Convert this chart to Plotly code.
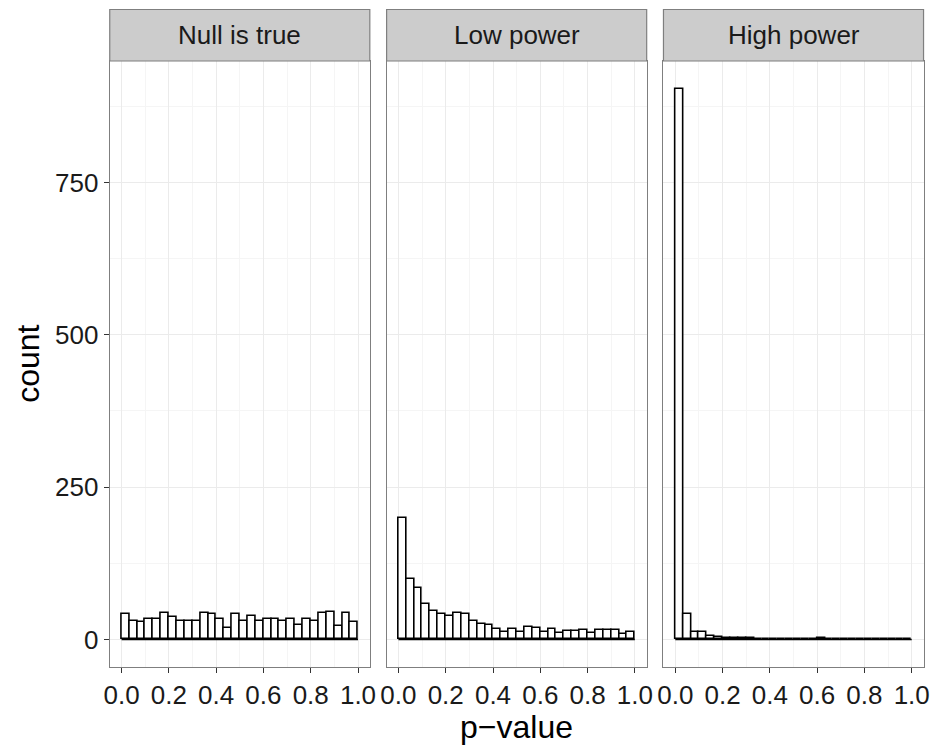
import numpy as np
import plotly.graph_objects as go

# ---- data (counts per bin, 30 bins on [0, 1]) ----
panels = ["Null is true", "Low power", "High power"]
null_counts = [41, 31, 29, 33, 34, 43, 37, 31, 31, 31, 44, 41, 34, 19, 42,
               31, 38, 30, 34, 33, 31, 34, 24, 34, 30, 44, 45, 22, 44, 29]
low_counts = [200, 100, 84, 58, 46, 42, 38, 44, 42, 31, 26, 23, 17, 12, 17,
              12, 21, 19, 12, 17, 11, 14, 14, 16, 11, 16, 16, 15, 9, 13]
high_counts = [904, 41, 13, 13, 6, 4, 3, 2, 2, 2, 1, 1, 1, 1, 0,
               0, 1, 0, 3, 0, 0, 1, 0, 0, 0, 0, 0, 0, 0, 0]
x_ticks = [0.0, 0.2, 0.4, 0.6, 0.8, 1.0]
y_ticks = [0, 250, 500, 750]
n_bins = 30
x_lo, x_hi = 0.0, 1.0

OFF = 8                      # page body margin
W, H = 941 - 2 * OFF, 745 - OFF
FONT = "Liberation Sans, Arial, sans-serif"

edges = np.linspace(x_lo, x_hi, n_bins + 1)
centers = (edges[:-1] + edges[1:]) / 2
bw = (x_hi - x_lo) / n_bins

series = [null_counts, low_counts, high_counts]
ymax = max(max(s) for s in series)
yr = [-0.05 * ymax, 1.05 * ymax]
xr = [x_lo - 0.05 * (x_hi - x_lo), x_hi + 0.05 * (x_hi - x_lo)]

# panel geometry in screen pixels
px_left = [105, 385.5, 666]
px_w = 263.5
top_px, bot_px = 61, 667
strip_top = 9.5

def fx(p):
    return (p - OFF) / W

def fy(p):
    return 1 - (p - OFF) / H

fig = go.Figure()
for i, cnt in enumerate(series):
    ax = "" if i == 0 else str(i + 1)
    fig.add_trace(go.Scatter(
        x=[edges[0], edges[-1]], y=[0, 0], mode="lines",
        line=dict(color="black", width=1.6), hoverinfo="skip",
        showlegend=False, xaxis="x" + ax, yaxis="y" + ax))
    fig.add_trace(go.Bar(
        x=centers, y=cnt, width=bw,
        marker=dict(color="white", line=dict(color="black", width=1.6)),
        showlegend=False, xaxis="x" + ax, yaxis="y" + ax))

grid_major = "#EBEBEB"
grid_minor = "#F5F5F5"
border = "#7F7F7F"
TICK_FS = 26
TITLE_FS = 32

layout = dict(
    width=W, height=H,
    margin=dict(l=0, r=0, t=0, b=0),
    paper_bgcolor="white", plot_bgcolor="white",
    bargap=0, barmode="overlay",
    font=dict(family=FONT, color="black"),
    shapes=[], annotations=[],
)

for i in range(3):
    sfx = "" if i == 0 else str(i + 1)
    x0, x1 = px_left[i], px_left[i] + px_w
    layout["xaxis" + sfx] = dict(
        domain=[fx(x0), fx(x1)], range=xr, anchor="y" + sfx,
        tickmode="array", tickvals=x_ticks,
        ticktext=[f"{v:.1f}" for v in x_ticks],
        ticks="outside", ticklen=5, tickwidth=1.2, tickcolor="#333333",
        tickfont=dict(size=TICK_FS, color="#1a1a1a", family=FONT),
        showgrid=True, gridcolor=grid_major, gridwidth=1.1,
        minor=dict(tickmode="array",
                   tickvals=[(a + b) / 2 for a, b in zip(x_ticks[:-1], x_ticks[1:])],
                   showgrid=True, gridcolor=grid_minor, gridwidth=1, ticks=""),
        zeroline=False, showline=True, mirror=True,
        linecolor=border, linewidth=1.2,
    )
    layout["yaxis" + sfx] = dict(
        domain=[fy(bot_px), fy(top_px)], range=yr, anchor="x" + sfx,
        tickmode="array", tickvals=y_ticks,
        ticks="outside" if i == 0 else "", ticklen=5, tickwidth=1.2,
        tickcolor="#333333",
        showticklabels=(i == 0),
        tickfont=dict(size=TICK_FS, color="#1a1a1a", family=FONT),
        showgrid=True, gridcolor=grid_major, gridwidth=1.1,
        minor=dict(tickmode="array",
                   tickvals=[(a + b) / 2 for a, b in zip(y_ticks[:-1], y_ticks[1:])]
                   + [y_ticks[-1] + (y_ticks[1] - y_ticks[0]) / 2],
                   showgrid=True, gridcolor=grid_minor, gridwidth=1, ticks=""),
        zeroline=False, showline=True, mirror=True,
        linecolor=border, linewidth=1.2,
    )
    if i > 0:
        layout["yaxis" + sfx]["matches"] = "y"
    # strip
    layout["shapes"].append(dict(
        type="rect", xref="paper", yref="paper",
        x0=fx(x0), x1=fx(x1), y0=fy(top_px), y1=fy(strip_top),
        fillcolor="#CCCCCC", line=dict(color=border, width=1.2), layer="above"))
    layout["annotations"].append(dict(
        xref="paper", yref="paper", x=fx((x0 + x1) / 2),
        y=fy((top_px + strip_top) / 2), text=panels[i], showarrow=False,
        xanchor="center", yanchor="middle",
        font=dict(size=TICK_FS, color="#1a1a1a", family=FONT)))

layout["annotations"].append(dict(
    xref="paper", yref="paper", x=fx((px_left[0] + px_left[2] + px_w) / 2),
    y=fy(727), text="p\u2212value", showarrow=False,
    xanchor="center", yanchor="middle",
    font=dict(size=TITLE_FS, color="black", family=FONT)))
layout["annotations"].append(dict(
    xref="paper", yref="paper", x=fx(22), y=fy((top_px + bot_px) / 2),
    text="count", showarrow=False, textangle=-90,
    xanchor="center", yanchor="middle",
    font=dict(size=TITLE_FS, color="black", family=FONT)))

fig.update_layout(**layout)
fig.write_html("out.html")
